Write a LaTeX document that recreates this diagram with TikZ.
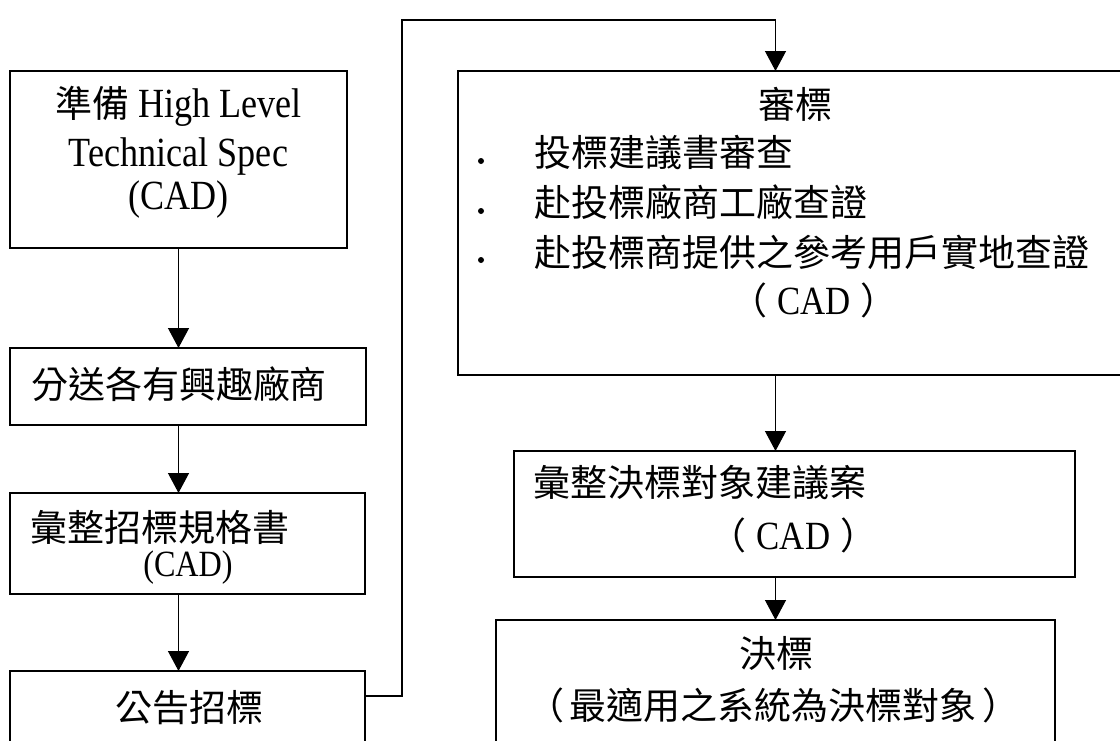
\documentclass[tikz,border=0pt]{standalone}
\usepackage{fontspec}
\setmainfont{Liberation Serif}
\newfontfamily\cjk{Noto Sans CJK TC}
\newfontfamily\lat[FakeStretch=0.87]{Liberation Serif}
\usetikzlibrary{arrows.meta}
\begin{document}
\begin{tikzpicture}[x=1pt,y=-1pt,
  box/.style={draw,line width=1.3pt,rectangle,inner sep=0pt,outer sep=0pt},
  arr/.style={line width=1.3pt,-{Triangle[length=20pt,width=21pt]}},
  ctext/.style={font=\cjk\fontsize{37}{44}\selectfont,inner sep=0pt},
  lbig/.style={font=\lat\fontsize{41.5}{46}\selectfont,inner sep=0pt},
  lmid/.style={font=\lat\fontsize{37}{42}\selectfont,inner sep=0pt},
  dot/.style={circle,fill,inner sep=0pt,minimum size=6pt}]
\clip (0,0) rectangle (1120,740);
\fill[white] (0,0) rectangle (1120,740);
% left column boxes
\node[box,minimum width=337pt,minimum height=177pt] (b1) at (178.5,159.5) {};
\node[box,minimum width=356pt,minimum height=77pt] (b2) at (188,386.5) {};
\node[box,minimum width=355pt,minimum height=101pt] (b3) at (187.5,543.5) {};
\node[box,minimum width=355pt,minimum height=99pt] (b4) at (187.5,720.5) {};
% right column boxes
\node[box,minimum width=672pt,minimum height=304pt] (sb) at (794,223) {};
\node[box,minimum width=561pt,minimum height=126pt] (hz) at (794.5,514) {};
\node[box,minimum width=559pt,minimum height=160pt] (jb) at (775.5,700) {};
% texts box 1
\node[lbig,anchor=base] (t1a) at (178.5,117) {{\cjk\fontsize{37}{44}\selectfont 準備} High Level};
\node[lbig,anchor=base] (t1b) at (178.5,166) {Technical Spec};
\node[lbig,anchor=base] (t1c) at (178.5,209) {(CAD)};
% box 2
\node[ctext] (t2) at (179,384) {分送各有興趣廠商};
% box 3
\node[ctext,anchor=west] (t3a) at (30,527) {彙整招標規格書};
\node[lmid] (t3b) at (188,568) {(CAD)};
% box 4
\node[ctext] (t4) at (189,708) {公告招標};
% review box
\node[ctext] (s0) at (795,104) {審標};
\node[dot] (d1) at (481,161) {};
\node[dot] (d2) at (481,211) {};
\node[dot] (d3) at (481,260) {};
\node[ctext,anchor=west] (s1) at (534,152) {投標建議書審查};
\node[ctext,anchor=west] (s2) at (534,202) {赴投標廠商工廠查證};
\node[ctext,anchor=west] (s3) at (534,252) {赴投標商提供之參考用戶實地查證};
\node[ctext] (s4) at (814,300) {（\hspace{10pt}{\lat\fontsize{40}{44}\selectfont CAD}\hspace{10pt}）};
% summary box
\node[ctext,anchor=west] (h1) at (533,483) {彙整決標對象建議案};
\node[ctext] (h2) at (793.5,535) {（\hspace{10pt}{\lat\fontsize{40}{44}\selectfont CAD}\hspace{10pt}）};
% decision box
\node[ctext] (j1) at (776,653) {決標};
\node[ctext] (j2) at (773.5,705) {（\hspace{6pt}最適用之系統為決標對象\hspace{6pt}）};
% connectors
\coordinate (c1) at (402,20);
\draw[arr] (b1.south) -- (b1.south |- b2.north);
\draw[arr] (b1.south |- b2.south) -- (b1.south |- b3.north);
\draw[arr] (b1.south |- b3.south) -- (b1.south |- b4.north);
\draw[arr] ([yshift=-25pt]b4.north east) -| (c1) -| (jb.north |- sb.north);
\draw[arr] (jb.north |- sb.south) -- (jb.north |- hz.north);
\draw[arr] (jb.north |- hz.south) -- (jb.north);
\end{tikzpicture}
\end{document}
